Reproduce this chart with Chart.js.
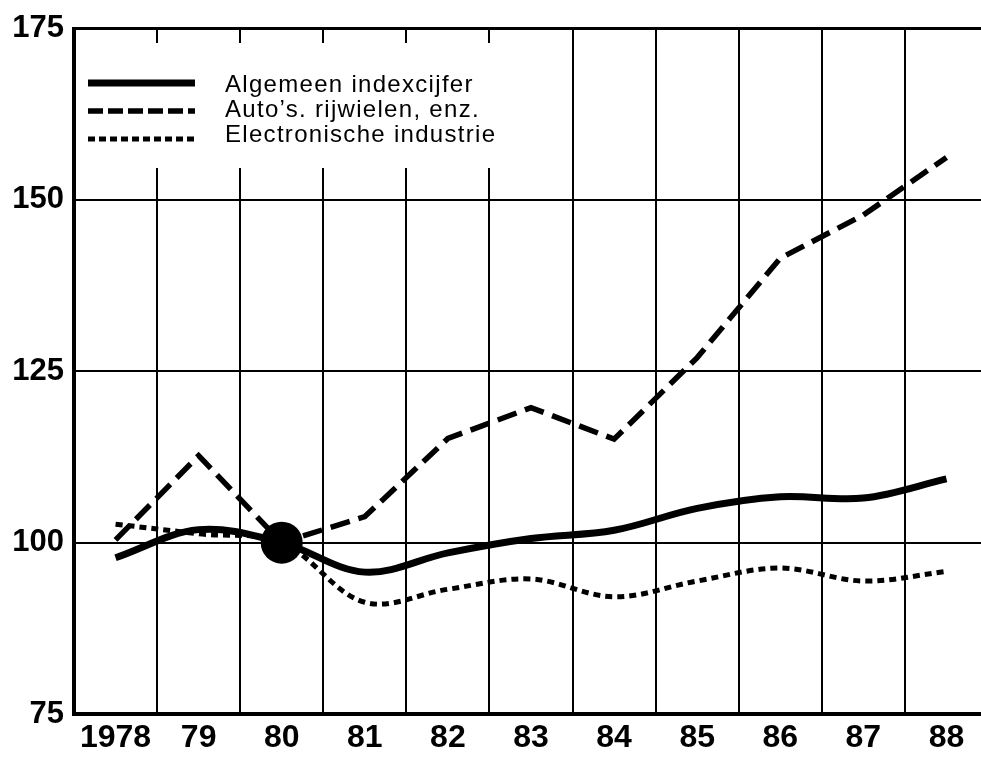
<!DOCTYPE html>
<html><head><meta charset="utf-8">
<script src="https://cdn.jsdelivr.net/npm/chart.js@4.4.1/dist/chart.umd.min.js"></script>
<style>html,body{margin:0;padding:0;background:#fff;overflow:hidden;width:981px;height:758px;}canvas{display:block;}</style>
</head><body>
<canvas id="c" width="988" height="758"></canvas>
<script>
const categories = ['1978','79','80','81','82','83','84','85','86','87','88'];
const seriesNames = ['Algemeen indexcijfer', 'Auto\u2019s. rijwielen, enz.', 'Electronische industrie'];
const algemeen   = [97.8, 101.9, 100, 95.7, 98.5, 100.6, 101.8, 105.0, 106.7, 106.5, 109.3];
const autos      = [100.4, 112.7, 100, 103.8, 115.2, 119.7, 115.1, 127.0, 141.5, 147.8, 156.2];
const electronic = [102.7, 101.3, 100, 91.3, 93.2, 94.7, 92.1, 94.4, 96.3, 94.4, 95.8];
const yTicks = [75, 100, 125, 150, 175];
const baseIndex = 2; // 1980 = 100

const FONT = "'Liberation Sans', Arial, Helvetica, sans-serif";

const paperLegend = {
  id: 'paperLegend',
  beforeDatasetsDraw(chart) {
    const ctx = chart.ctx;
    ctx.save();
    ctx.fillStyle = '#fff';
    ctx.fillRect(77, 43, 458, 125);
    const rows = [83, 111, 139];
    const bases = [92, 117, 142];
    const legendDash = [[], [15, 5], [7, 4]];
    chart.data.datasets.forEach((ds, i) => {
      ctx.beginPath();
      ctx.lineWidth = ds.borderWidth;
      ctx.strokeStyle = ds.borderColor;
      ctx.setLineDash(legendDash[i]);
      ctx.lineCap = 'butt';
      ctx.moveTo(88, rows[i]);
      ctx.lineTo(195, rows[i]);
      ctx.stroke();
      ctx.setLineDash([]);
      ctx.fillStyle = '#000';
      ctx.font = '24px ' + FONT;
      try { ctx.letterSpacing = '1.3px'; } catch (e) {}
      ctx.textBaseline = 'alphabetic';
      ctx.textAlign = 'left';
      ctx.fillText(ds.label, 225, bases[i]);
    });
    ctx.restore();
  }
};

new Chart(document.getElementById('c'), {
  type: 'line',
  data: {
    labels: categories,
    datasets: [
      { label: seriesNames[0], data: algemeen, borderColor: '#000', borderWidth: 7, tension: 0.35,
        pointRadius: algemeen.map((v, i) => i === baseIndex ? 21 : 0),
        pointBackgroundColor: '#000', pointBorderWidth: 0, fill: false },
      { label: seriesNames[1], data: autos, borderColor: '#000', borderWidth: 5.5, borderDash: [20, 9],
        tension: 0, pointRadius: 0, fill: false },
      { label: seriesNames[2], data: electronic, borderColor: '#000', borderWidth: 5, borderDash: [7, 5],
        tension: 0.35, pointRadius: 0, fill: false }
    ]
  },
  options: {
    responsive: false,
    animation: false,
    layout: { padding: { top: 22, right: 0, left: 0, bottom: 0 } },
    plugins: { legend: { display: false }, tooltip: { enabled: false } },
    scales: {
      x: {
        offset: true,
        grid: { offset: true, color: '#000', lineWidth: 2, drawTicks: false },
        border: { display: true, color: '#000', width: 4 },
        ticks: { color: '#000', font: { family: FONT, size: 32, weight: 'bold' }, padding: 5, maxRotation: 0, autoSkip: false },
        afterFit(scale) { scale.height = 44; }
      },
      y: {
        min: 75, max: 175,
        afterBuildTicks(scale) { scale.ticks = yTicks.map(v => ({ value: v })); },
        grid: { color: '#000', lineWidth: c => (c.tick && c.tick.value === 175) ? 3 : 2, drawTicks: false },
        border: { display: true, color: '#000', width: 4 },
        ticks: { color: '#000', font: { family: FONT, size: 31, weight: 'bold' }, padding: 10 },
        afterFit(scale) { scale.width = 74; }
      }
    }
  },
  plugins: [paperLegend]
});
</script>
</body></html>
